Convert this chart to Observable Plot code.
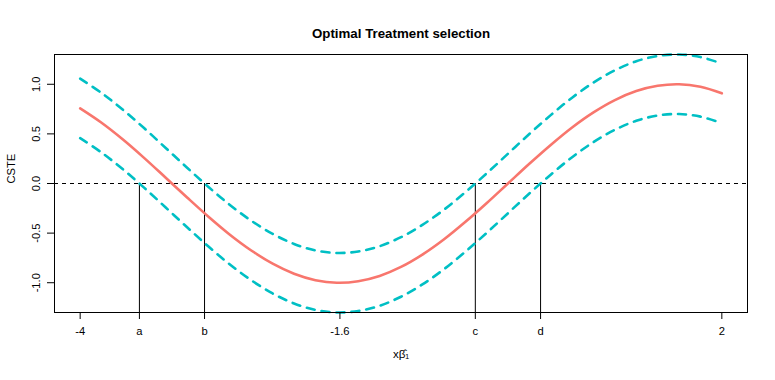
<!DOCTYPE html>
<html><head><meta charset="utf-8">
<script src="https://cdn.jsdelivr.net/npm/d3@7"></script>
<script src="https://cdn.jsdelivr.net/npm/@observablehq/plot@0.6"></script>
<style>
body{margin:0;background:#fff}
svg{font-family:"Liberation Sans",Arial,Helvetica,sans-serif}
</style>
</head><body><div id="chart"></div>
<script>
// x grid (xβ̂1) and estimated curve values
const xs = [-4.0,-3.8,-3.6,-3.4,-3.2,-3.0,-2.8,-2.6,-2.4,-2.2,-2.0,-1.8,-1.6,-1.4,-1.2,-1.0,-0.8,-0.6,-0.4,-0.2,0.0,0.2,0.4,0.6,0.8,1.0,1.2,1.4,1.6,1.8,2.0];
const cste = [0.757,0.612,0.443,0.256,0.058,-0.141,-0.335,-0.516,-0.675,-0.808,-0.909,-0.974,-1.000,-0.985,-0.932,-0.841,-0.717,-0.565,-0.389,-0.199,0.000,0.199,0.389,0.565,0.717,0.841,0.932,0.985,1.000,0.974,0.909];
const lower = [0.457,0.312,0.143,-0.044,-0.242,-0.441,-0.635,-0.816,-0.975,-1.108,-1.209,-1.274,-1.300,-1.285,-1.232,-1.141,-1.017,-0.865,-0.689,-0.499,-0.300,-0.101,0.089,0.265,0.417,0.541,0.632,0.685,0.700,0.674,0.609];
const upper = [1.057,0.912,0.743,0.556,0.358,0.159,-0.035,-0.216,-0.375,-0.508,-0.609,-0.674,-0.700,-0.685,-0.632,-0.541,-0.417,-0.265,-0.089,0.101,0.300,0.499,0.689,0.865,1.017,1.141,1.232,1.285,1.300,1.274,1.209];

const cutValues = [-3.446, -2.837, -0.305, 0.305];
const xTickValues = [-4, -3.446, -2.837, -1.571, -0.305, 0.305, 2];
const xTickLabels = ["-4", "a", "b", "-1.6", "c", "d", "2"];
const yTickValues = [-1, -0.5, 0, 0.5, 1];
const yTickLabels = ["-1.0", "-0.5", "0.0", "0.5", "1.0"];
const titleText = "Optimal Treatment selection";
const xLabelText = "xβ̂₁";
const yLabelText = "CSTE";

const xDomain = [-4.24, 2.24];
const yDomain = [-1.3, 1.3];

const data = xs.map((x, i) => ({x, cste: cste[i], lower: lower[i], upper: upper[i]}));
const xFmt = new Map(xTickValues.map((v, i) => [v, xTickLabels[i]]));
const yFmt = new Map(yTickValues.map((v, i) => [v, yTickLabels[i]]));

const chart = Plot.plot({
  width: 775,
  height: 380,
  marginLeft: 54,
  marginRight: 28,
  marginTop: 54,
  marginBottom: 68,
  style: {fontFamily: '"Liberation Sans", Arial, sans-serif', fontSize: "11.2px", color: "black", background: "white"},
  x: {domain: xDomain},
  y: {domain: yDomain},
  marks: [
    Plot.ruleY([0], {stroke: "black", strokeWidth: 1, strokeDasharray: "4,4"}),
    Plot.ruleX(cutValues, {y1: 0, y2: yDomain[0], stroke: "black", strokeWidth: 1}),
    Plot.line(data, {x: "x", y: "upper", stroke: "#00BFC4", strokeWidth: 2.6, strokeDasharray: "8,7", curve: "catmull-rom"}),
    Plot.line(data, {x: "x", y: "lower", stroke: "#00BFC4", strokeWidth: 2.6, strokeDasharray: "8,7", curve: "catmull-rom"}),
    Plot.line(data, {x: "x", y: "cste", stroke: "#F8766D", strokeWidth: 2.6, curve: "catmull-rom"}),
    Plot.frame({stroke: "black", strokeWidth: 1}),
    Plot.axisX({ticks: xTickValues, tickFormat: d => xFmt.get(d), tickSize: 7, tickPadding: 8, label: null, stroke: "black"}),
    Plot.axisY({ticks: yTickValues, tickFormat: null, text: null, tickSize: 7, label: null, stroke: "black"}),
    Plot.text(yTickValues, {x: () => xDomain[0], y: d => d, text: d => yFmt.get(d), rotate: -90, dx: -14.5, textAnchor: "middle", lineAnchor: "bottom", fontSize: 11.2}),
    Plot.text([titleText], {frameAnchor: "top", dy: -26, fontWeight: "bold", fontSize: 13.3}),
    Plot.text([xLabelText], {frameAnchor: "bottom", dy: 45, fontSize: 11.5}),
    Plot.text([yLabelText], {frameAnchor: "left", dx: -43, rotate: -90, fontSize: 11.2})
  ]
});
document.getElementById("chart").appendChild(chart);
</script>
</body></html>
